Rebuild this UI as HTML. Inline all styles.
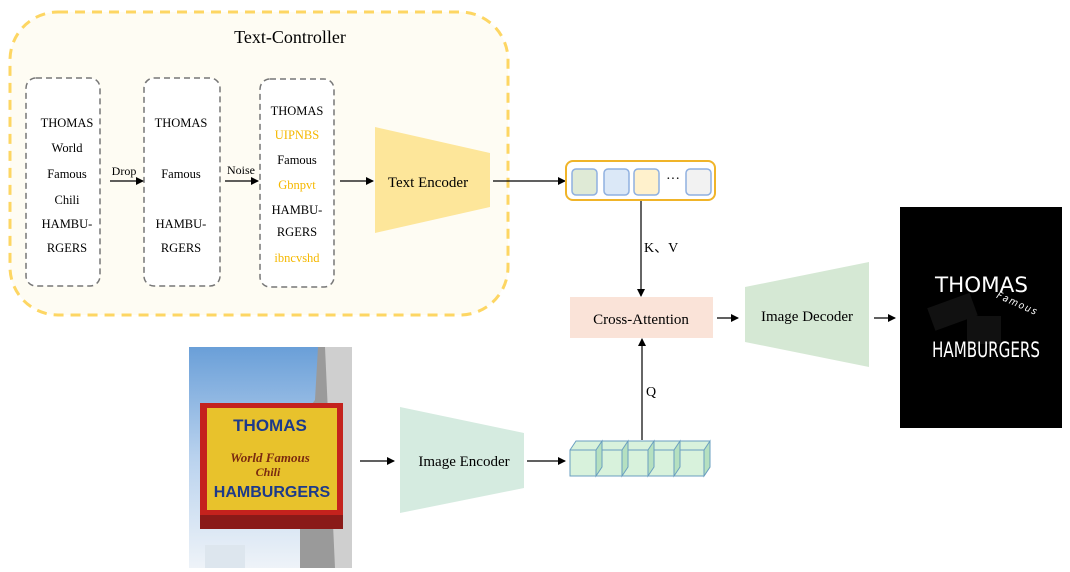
<!DOCTYPE html>
<html><head><meta charset="utf-8"><style>html,body{margin:0;padding:0;background:#fff}svg{display:block}</style></head>
<body>
<svg width="1070" height="572" viewBox="0 0 1070 572" xmlns="http://www.w3.org/2000/svg" font-family="Liberation Serif, serif">
<defs>
<marker id="a" markerWidth="8" markerHeight="8" refX="7" refY="4" orient="auto" markerUnits="userSpaceOnUse"><path d="M0,0 L8,4 L0,8 z" fill="#000"/></marker>
<linearGradient id="sky" x1="0" y1="0" x2="0" y2="1"><stop offset="0" stop-color="#6a9fd8"/><stop offset="0.5" stop-color="#b9d2ee"/><stop offset="1" stop-color="#eef3f8"/></linearGradient>
</defs>
<rect x="10" y="12" width="498" height="303" rx="48" fill="#fefcf3" stroke="#fdd663" stroke-width="3" stroke-dasharray="10,7"/>
<text x="290" y="43" font-size="18" text-anchor="middle">Text-Controller</text>
<g fill="#fff" stroke="#777" stroke-width="1.5" stroke-dasharray="6,4">
<rect x="26" y="78" width="74" height="208" rx="10"/>
<rect x="144" y="78" width="76" height="208" rx="10"/>
<rect x="260" y="79" width="74" height="208" rx="10"/>
</g>
<g font-size="12.5" text-anchor="middle">
<text x="67" y="127">THOMAS</text><text x="67" y="152">World</text><text x="67" y="178">Famous</text><text x="67" y="204">Chili</text><text x="67" y="228">HAMBU-</text><text x="67" y="252">RGERS</text>
<text x="181" y="127">THOMAS</text><text x="181" y="178">Famous</text><text x="181" y="228">HAMBU-</text><text x="181" y="252">RGERS</text>
<text x="297" y="115">THOMAS</text><text x="297" y="139" fill="#f5b800">UIPNBS</text><text x="297" y="164">Famous</text><text x="297" y="189" fill="#f5b800">Gbnpvt</text><text x="297" y="214">HAMBU-</text><text x="297" y="236">RGERS</text><text x="297" y="262" fill="#f5b800">ibncvshd</text>
<text x="124" y="175" font-size="12">Drop</text><text x="241" y="174" font-size="12">Noise</text>
</g>
<g stroke="#000" stroke-width="1.2" marker-end="url(#a)">
<line x1="110" y1="181" x2="143" y2="181"/>
<line x1="225" y1="181" x2="258" y2="181"/>
<line x1="340" y1="181" x2="373" y2="181"/>
<line x1="493" y1="181" x2="565" y2="181"/>
<line x1="641" y1="201" x2="641" y2="296"/>
<line x1="717" y1="318" x2="738" y2="318"/>
<line x1="874" y1="318" x2="895" y2="318"/>
<line x1="360" y1="461" x2="394" y2="461"/>
<line x1="527" y1="461" x2="565" y2="461"/>
<line x1="642" y1="440" x2="642" y2="339"/>
</g>
<polygon points="375,127 490,153 490,207 375,233" fill="#fde69a"/>
<text x="428" y="187" font-size="15" text-anchor="middle">Text Encoder</text>
<rect x="566" y="161" width="149" height="39" rx="7" fill="#fff" stroke="#f0b429" stroke-width="2"/>
<g stroke="#8fb0e0" stroke-width="1.5">
<rect x="572" y="169" width="25" height="26" rx="4" fill="#dfead6"/>
<rect x="604" y="169" width="25" height="26" rx="4" fill="#dbe8f7"/>
<rect x="634" y="169" width="25" height="26" rx="4" fill="#fff1cc"/>
<rect x="686" y="169" width="25" height="26" rx="4" fill="#f2f2f2"/>
</g>
<text x="673" y="183" font-size="14" text-anchor="middle">···</text>
<text x="644" y="252" font-size="14">K、V</text>
<rect x="570" y="297" width="143" height="41" fill="#fae3d8"/>
<text x="641" y="324" font-size="15" text-anchor="middle">Cross-Attention</text>
<polygon points="745,287 869,262 869,367 745,342" fill="#d5e8d4"/>
<text x="807" y="321" font-size="15" text-anchor="middle">Image Decoder</text>
<rect x="900" y="207" width="162" height="221" fill="#000"/>
<g fill="#111"><rect x="930" y="300" width="45" height="24" transform="rotate(-20 952 312)"/><rect x="967" y="316" width="34" height="28"/></g>
<g fill="#fff" font-family="DejaVu Sans Condensed, Liberation Sans Narrow, sans-serif">
<text x="935" y="292" font-size="21" textLength="93" lengthAdjust="spacingAndGlyphs">THOMAS</text>
<text x="932" y="357" font-size="21" textLength="108" lengthAdjust="spacingAndGlyphs">HAMBURGERS</text>
<text x="993" y="305" font-size="10" font-style="italic" transform="rotate(24 1012 308)" letter-spacing="1.5">Famous</text>
</g>
<rect x="189" y="347" width="163" height="221" fill="url(#sky)"/>
<polygon points="318,347 352,347 352,568 300,568 300,420 315,400" fill="#9a9a9a"/>
<polygon points="325,347 352,347 352,568 335,568" fill="#cfcfcf"/>
<rect x="200" y="403" width="143" height="118" fill="#c4221d"/>
<rect x="207" y="408" width="130" height="102" fill="#e8c22c"/>
<rect x="200" y="515" width="143" height="14" fill="#8a1a18"/>
<rect x="205" y="545" width="40" height="23" fill="#dde6ee"/>
<g font-family="Liberation Sans, sans-serif" font-weight="bold" text-anchor="middle">
<text x="270" y="431" font-size="17" fill="#1d3a8a">THOMAS</text>
<text x="270" y="462" font-size="13" fill="#7a2a10" font-style="italic" font-family="Liberation Serif, serif">World Famous</text>
<text x="268" y="476" font-size="12" fill="#7a2a10" font-style="italic" font-family="Liberation Serif, serif">Chili</text>
<text x="272" y="497" font-size="16" fill="#1d3a8a">HAMBURGERS</text>
</g>
<polygon points="400,407 524,433 524,488 400,513" fill="#d5ebe0"/>
<text x="464" y="466" font-size="15" text-anchor="middle">Image Encoder</text>
<g stroke="#6a9fc0" stroke-width="1" fill="#d8f2dc">
<polygon points="570,450 576,441 710,441 710,467 704,476 570,476" fill="#d8f2dc"/>
<rect x="570" y="450" width="26" height="26"/><rect x="596" y="450" width="26" height="26"/><rect x="622" y="450" width="26" height="26"/><rect x="648" y="450" width="26" height="26"/><rect x="674" y="450" width="30" height="26"/>
<g fill="#b5e0c0"><polygon points="596,450 602,441 602,467 596,476"/><polygon points="622,450 628,441 628,467 622,476"/><polygon points="648,450 654,441 654,467 648,476"/><polygon points="674,450 680,441 680,467 674,476"/><polygon points="704,450 710,441 710,467 704,476"/></g>
</g>
<text x="646" y="396" font-size="14">Q</text>
</svg>
</body></html>
